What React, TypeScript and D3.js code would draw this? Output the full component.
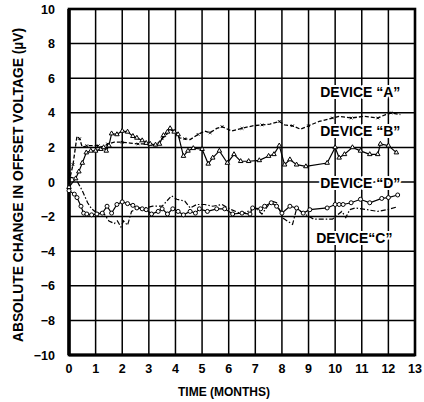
import * as d3 from 'd3';

// time in months, change in offset voltage (µV)
const deviceA: [number, number][] = [
  [0, 0], [0.15, 1.0], [0.3, 2.65], [0.4, 2.5], [0.5, 2.0], [0.67, 2.1], [0.93, 2.1], [1.1, 2.1],
  [1.3, 2.0], [1.45, 2.2], [1.7, 2.3], [2.0, 2.3], [2.3, 2.25], [2.6, 2.2], [2.85, 2.2], [3.05, 2.15],
  [3.25, 2.1], [3.5, 2.5], [3.7, 2.8], [3.8, 3.05], [3.9, 2.95], [4.05, 2.8], [4.15, 2.55], [4.35, 2.5],
  [4.55, 2.45], [4.85, 2.75], [5.1, 2.95], [5.3, 2.85], [5.55, 3.1], [5.75, 3.2], [6.1, 2.95], [6.5, 3.1],
  [6.9, 3.25], [7.25, 3.3], [7.55, 3.35], [7.9, 3.5], [8.1, 3.3], [8.4, 3.25], [8.7, 3.05], [9.0, 3.25],
  [9.4, 3.5], [9.9, 3.7], [10.15, 3.8], [10.6, 3.7], [11.1, 3.8], [11.6, 3.7], [11.9, 3.9], [12.1, 4.0],
  [12.45, 3.9],
];

const deviceB: [number, number][] = [
  [0, -0.3], [0.25, 0.2], [0.37, 0.6], [0.5, 1.1], [0.65, 1.7], [0.82, 1.8], [1.0, 1.8], [1.2, 1.9],
  [1.3, 2.0], [1.4, 1.8], [1.5, 2.1], [1.6, 2.8], [1.8, 2.75], [2.0, 2.95], [2.2, 2.9], [2.4, 2.65],
  [2.55, 2.55], [2.75, 2.4], [2.9, 2.25], [3.05, 2.2], [3.25, 2.15], [3.4, 2.2], [3.55, 2.7], [3.7, 2.9],
  [3.8, 3.1], [3.95, 2.9], [4.1, 2.75], [4.3, 1.5], [4.47, 1.8], [4.67, 1.95], [5.0, 1.9], [5.23, 1.05],
  [5.4, 1.4], [5.65, 1.8], [5.95, 1.1], [6.2, 1.6], [6.45, 1.2], [6.75, 1.2], [7.15, 1.25], [7.5, 1.5],
  [7.7, 1.6], [7.9, 2.1], [8.1, 1.0], [8.3, 1.3], [8.55, 1.0], [8.9, 0.9], [9.7, 1.1], [10.0, 2.0],
  [10.15, 1.4], [10.35, 1.6], [10.65, 2.0], [10.95, 1.8], [11.3, 1.6], [11.6, 1.6], [11.7, 2.2], [12.0, 2.1],
  [12.3, 1.7],
];

const deviceC: [number, number][] = [
  [0, 0.3], [0.25, 0.2], [0.5, -0.5], [0.7, -1.2], [0.85, -1.55], [1.05, -1.8], [1.3, -1.8], [1.5, -2.25],
  [1.7, -2.4], [1.82, -2.25], [1.95, -2.6], [2.05, -2.25], [2.2, -2.5], [2.35, -1.7], [2.6, -1.5], [2.85, -1.5],
  [3.15, -1.4], [3.5, -1.4], [3.85, -0.8], [4.05, -1.0], [4.35, -1.1], [4.55, -1.5], [4.8, -1.3], [5.1, -1.3],
  [5.4, -1.4], [5.75, -1.3], [6.1, -1.6], [6.5, -1.85], [7.0, -1.5], [7.25, -1.85], [7.6, -1.1], [7.8, -1.2],
  [8.05, -2.1], [8.4, -2.45], [8.55, -1.55], [8.85, -1.85], [9.2, -2.15], [9.9, -2.15], [10.05, -1.95], [10.25, -1.7],
  [10.4, -2.05], [10.55, -1.6], [10.75, -1.5], [11.2, -1.6], [11.6, -1.7], [11.95, -1.6], [12.3, -1.45],
];

const deviceD: [number, number][] = [
  [0, -0.5], [0.2, -0.7], [0.3, -0.9], [0.45, -1.4], [0.55, -1.8], [0.67, -1.85], [0.85, -1.9], [1.05, -1.85],
  [1.25, -1.8], [1.43, -1.4], [1.6, -1.8], [1.8, -1.3], [2.0, -1.15], [2.2, -1.25], [2.4, -1.35], [2.55, -1.5],
  [2.75, -1.55], [2.9, -1.6], [3.1, -1.85], [3.35, -1.7], [3.5, -1.55], [3.7, -1.85], [3.9, -1.55], [4.1, -1.7],
  [4.3, -1.9], [4.55, -1.7], [4.75, -1.8], [4.9, -1.55], [5.2, -1.7], [5.55, -1.55], [5.85, -1.55], [6.15, -1.85],
  [6.5, -1.8], [6.8, -1.85], [6.9, -1.5], [7.2, -1.55], [7.35, -1.4], [7.6, -1.2], [7.8, -1.4], [8.0, -1.8],
  [8.3, -1.4], [8.55, -1.5], [8.8, -1.8], [9.05, -1.6], [9.7, -1.5], [10.0, -1.3], [10.15, -1.3], [10.3, -1.3],
  [10.6, -1.2], [10.95, -1.0], [11.3, -1.2], [11.75, -0.95], [12.0, -0.9], [12.35, -0.75],
];

const xTicks = [0, 1, 2, 3, 4, 5, 6, 7, 8, 9, 10, 11, 12, 13];
const yTicks = [-10, -8, -6, -4, -2, 0, 2, 4, 6, 8, 10];

const labels = [
  { text: 'DEVICE \u201CA\u201D', x: 12.45, y: 4.9 },
  { text: 'DEVICE \u201CB\u201D', x: 12.45, y: 2.65 },
  { text: 'DEVICE \u201CD\u201D', x: 12.45, y: -0.35 },
  { text: 'DEVICE\u201CC\u201D', x: 12.15, y: -3.55 },
];

const W = 424;
const H = 402;
const font = '"Liberation Sans", Arial, sans-serif';

export default function App() {
  const x = d3.scaleLinear().domain([0, 13]).range([69, 415]);
  const y = d3.scaleLinear().domain([-10, 10]).range([355, 9]);
  const line = d3.line<[number, number]>().x((d) => x(d[0])).y((d) => y(d[1]));

  return (
    <div style={{ position: 'absolute', left: 0, top: 0 }}>
      <svg width={W} height={H} style={{ display: 'block', background: '#fff' }}>
        {/* grid */}
        {xTicks.slice(1, -1).map((t) => (
          <line key={'gx' + t} x1={x(t)} x2={x(t)} y1={y(10)} y2={y(-10)} stroke="#000" strokeWidth={1.5} />
        ))}
        {yTicks.slice(1, -1).map((t) => (
          <line key={'gy' + t} x1={x(0)} x2={x(13)} y1={y(t)} y2={y(t)} stroke="#000" strokeWidth={1.5} />
        ))}
        <rect x={x(0)} y={y(10)} width={x(13) - x(0)} height={y(-10) - y(10)} fill="none" stroke="#000" strokeWidth={2.6} />
        <line x1={x(0)} x2={x(0)} y1={y(10)} y2={y(-10)} stroke="#000" strokeWidth={3.5} />
        <line x1={x(0)} x2={x(13)} y1={y(-10)} y2={y(-10)} stroke="#000" strokeWidth={3} />

        {/* series */}
        <path d={line(deviceC) ?? ''} fill="none" stroke="#000" strokeWidth={1.2} strokeDasharray="5,2,1.5,2" />
        <path d={line(deviceA) ?? ''} fill="none" stroke="#000" strokeWidth={1.3} strokeDasharray="4,2" />
        {deviceA.filter((_, i) => i % 2 === 1).map((d, i) => (
          <path key={'a' + i} d={`M${x(d[0]) - 1.3},${y(d[1]) - 1.3}l2.6,2.6m0,-2.6l-2.6,2.6`} stroke="#000" strokeWidth={1} />
        ))}
        <path d={line(deviceB) ?? ''} fill="none" stroke="#000" strokeWidth={1.2} />
        {deviceB.map((d, i) => (
          <path key={'b' + i} d={d3.symbol(d3.symbolTriangle, 9)() ?? ''} transform={`translate(${x(d[0])},${y(d[1])})`}
            fill="#fff" stroke="#000" strokeWidth={1} />
        ))}
        <path d={line(deviceD) ?? ''} fill="none" stroke="#000" strokeWidth={1.2} />
        {deviceD.map((d, i) => (
          <circle key={'d' + i} cx={x(d[0])} cy={y(d[1])} r={2} fill="#fff" stroke="#000" strokeWidth={1} />
        ))}

        {/* device labels */}
        {labels.map((l) => (
          <text key={l.text} x={x(l.x)} y={y(l.y)} textAnchor="end" fontFamily={font} fontWeight="bold" fontSize={14}
            stroke="#fff" strokeWidth={4} paintOrder="stroke" fill="#000">
            {l.text}
          </text>
        ))}

        {/* axes labels */}
        {yTicks.map((t) => (
          <text key={'yl' + t} x={55} y={y(t)} dy="0.36em" textAnchor="end" fontFamily={font} fontWeight="bold" fontSize={12.5}>
            {t < 0 ? '\u2212' + Math.abs(t) : t}
          </text>
        ))}
        {xTicks.map((t) => (
          <text key={'xl' + t} x={x(t)} y={373} textAnchor="middle" fontFamily={font} fontWeight="bold" fontSize={12.5}>
            {t}
          </text>
        ))}
        <text x={224} y={396} textAnchor="middle" fontFamily={font} fontWeight="bold" fontSize={12}>
          TIME (MONTHS)
        </text>
        <text transform={`translate(23,${185}) rotate(-90)`} textAnchor="middle" fontFamily={font} fontWeight="bold" fontSize={13.8}>
          ABSOLUTE CHANGE IN OFFSET VOLTAGE (µV)
        </text>
      </svg>
    </div>
  );
}
